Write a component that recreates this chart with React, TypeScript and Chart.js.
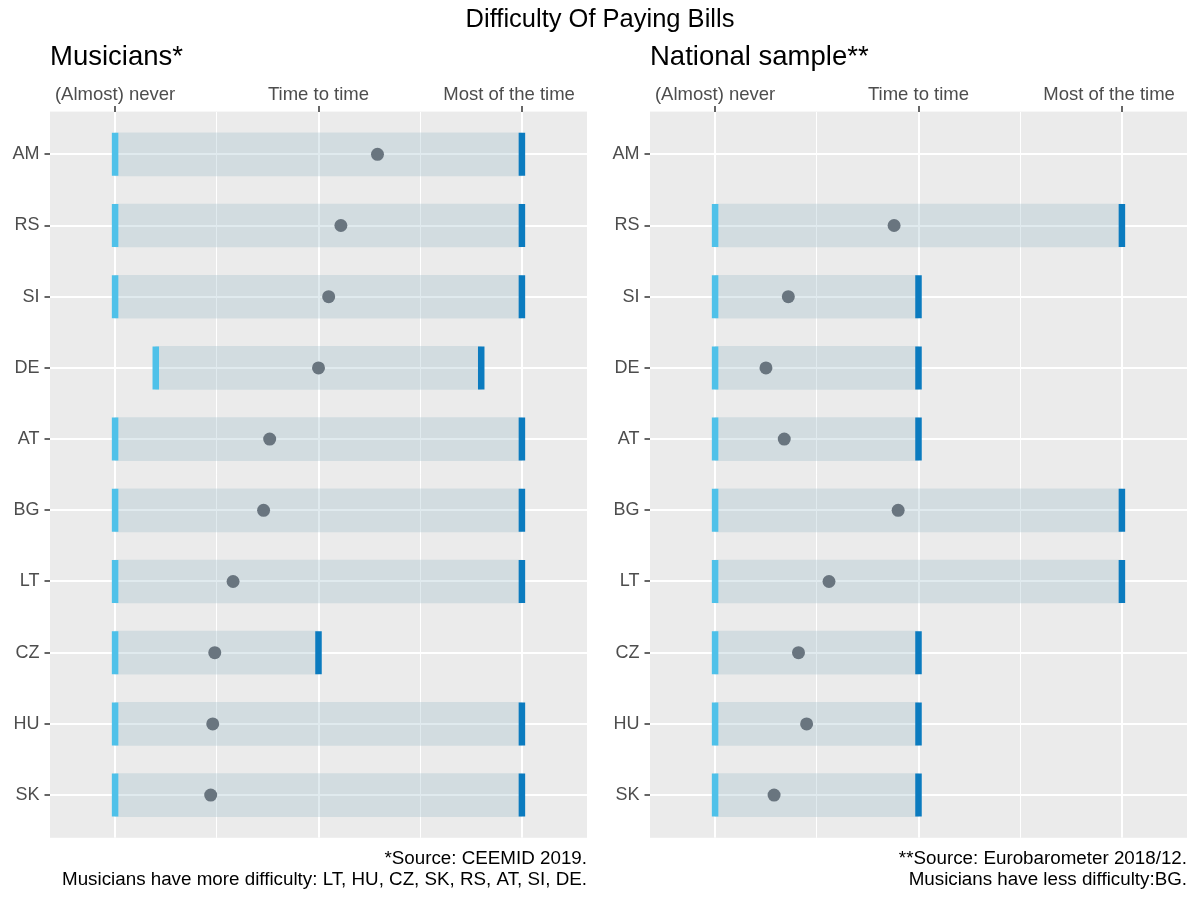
import { useEffect, useRef } from "react";
import { Chart, registerables } from "chart.js";

Chart.register(...registerables);

const FONT = '"Liberation Sans", Arial, Helvetica, sans-serif';
Chart.defaults.font.family = FONT;

const countries = ["AM", "RS", "SI", "DE", "AT", "BG", "LT", "CZ", "HU", "SK"];

const levelValues = [1, 2, 3];
const levelLabels = ["(Almost) never", "Time to time", "Most of the time"];
const gridBreaks = [1, 1.5, 2, 2.5, 3];

const musiciansMin = [1, 1, 1, 1.2, 1, 1, 1, 1, 1, 1];
const musiciansMax = [3, 3, 3, 2.8, 3, 3, 3, 2, 3, 3];
const musiciansMean = [2.29, 2.11, 2.05, 2.0, 1.76, 1.73, 1.58, 1.49, 1.48, 1.47];

const nationalMin = [null, 1, 1, 1, 1, 1, 1, 1, 1, 1];
const nationalMax = [null, 3, 2, 2, 2, 3, 3, 2, 2, 2];
const nationalMean = [null, 1.88, 1.36, 1.25, 1.34, 1.9, 1.56, 1.41, 1.45, 1.29];

const panelBackground = {
  id: "panelBackground",
  beforeDraw(chart: any) {
    const { ctx, chartArea: a } = chart;
    ctx.save();
    ctx.fillStyle = "#ebebeb";
    ctx.fillRect(a.left, a.top, a.right - a.left, a.bottom - a.top);
    ctx.restore();
  },
};

interface PanelProps {
  title: string;
  caption: string[];
  lows: (number | null)[];
  highs: (number | null)[];
  means: (number | null)[];
}

const Panel = ({ title, caption, lows, highs, means }: PanelProps) => {
  const canvasRef = useRef<HTMLCanvasElement | null>(null);

  useEffect(() => {
    if (!canvasRef.current) return;

    const rows = countries.map((_, i) => i).filter((i) => lows[i] !== null);
    const capStyle = {
      type: "scatter" as const,
      pointStyle: "line",
      pointRotation: 90,
      pointRadius: 21.5,
      pointBorderWidth: 6.5,
      order: 2,
    };

    const chart = new Chart(canvasRef.current, {
      type: "bar",
      data: {
        datasets: [
          {
            type: "bar",
            indexAxis: "y",
            data: rows.map((i) => ({ y: i, x: [lows[i], highs[i]] })) as any,
            backgroundColor: "rgba(152, 185, 198, 0.3)",
            borderWidth: 0,
            barThickness: 43,
            order: 3,
          },
          {
            ...capStyle,
            data: rows.map((i) => ({ x: lows[i] as number, y: i })),
            pointBorderColor: "#4fc1e9",
          },
          {
            ...capStyle,
            data: rows.map((i) => ({ x: highs[i] as number, y: i })),
            pointBorderColor: "#0b7bbf",
          },
          {
            type: "scatter",
            data: rows.map((i) => ({ x: means[i] as number, y: i })),
            pointStyle: "circle",
            pointRadius: 6.5,
            pointBorderWidth: 0,
            pointBackgroundColor: "#69757f",
            order: 1,
          },
        ] as any,
      },
      options: {
        animation: false,
        responsive: false,
        events: [],
        layout: { autoPadding: false, padding: { left: 0, right: 13, top: 0, bottom: 0 } },
        plugins: {
          legend: { display: false },
          tooltip: { enabled: false },
          title: {
            display: true,
            text: title,
            align: "start",
            fullSize: false,
            color: "#000",
            font: { size: 27.5, weight: "normal", lineHeight: 1.2 },
            padding: { top: 40.5, bottom: 0 },
          },
          subtitle: {
            display: true,
            position: "bottom",
            text: caption,
            align: "end",
            fullSize: false,
            color: "#000",
            font: { size: 18.8, weight: "normal", lineHeight: 1.1436 },
            padding: { top: 10, bottom: 9.2 },
          },
        },
        scales: {
          x: {
            type: "linear",
            position: "top",
            offset: false,
            min: 0.68,
            max: 3.32,
            afterBuildTicks: (scale: any) => {
              scale.ticks = gridBreaks.map((v) => ({ value: v }));
            },
            afterFit: (scale: any) => {
              scale.height = 38.1;
              scale.paddingLeft = 0;
              scale.paddingRight = 0;
            },
            border: { display: false },
            grid: {
              offset: false,
              color: "#ffffff",
              lineWidth: (ctx: any) => (levelValues.includes(ctx.tick?.value) ? 2 : 1),
              tickLength: 5.5,
              tickWidth: 1.5,
              tickColor: (ctx: any) => (levelValues.includes(ctx.tick?.value) ? "#333333" : "rgba(0,0,0,0)"),
            },
            ticks: {
              autoSkip: false,
              maxRotation: 0,
              minRotation: 0,
              padding: 0,
              color: "#4d4d4d",
              font: { size: 18.5 },
              callback: (value: any) => {
                const k = levelValues.indexOf(Number(value));
                if (k < 0) return "";
                // last label sits a little left of its tick, as in the original
                return k === levelLabels.length - 1 ? levelLabels[k] + "\u00a0".repeat(5) : levelLabels[k];
              },
            },
          },
          y: {
            type: "linear",
            reverse: true,
            offset: false,
            min: -0.6,
            max: countries.length - 0.4,
            afterBuildTicks: (scale: any) => {
              scale.ticks = countries.map((_, i) => ({ value: i }));
            },
            afterFit: (scale: any) => {
              scale.width = 50;
              scale.paddingTop = 0;
              scale.paddingBottom = 0;
            },
            border: { display: false },
            grid: {
              offset: false,
              color: "#ffffff",
              lineWidth: 2,
              tickLength: 5.5,
              tickWidth: 1.5,
              tickColor: "#333333",
            },
            ticks: {
              autoSkip: false,
              padding: 5,
              color: "#4d4d4d",
              font: { size: 18 },
              callback: (value: any) => countries[Number(value)] ?? "",
            },
          },
        },
      },
      plugins: [panelBackground],
    });

    return () => {
      chart.destroy();
    };
  }, [title, caption, lows, highs, means]);

  return <canvas ref={canvasRef} width={600} height={900} style={{ display: "block" }} />;
};

const App = () => {
  return (
    <div
      style={{
        position: "absolute",
        left: 0,
        top: 0,
        width: 1200,
        height: 900,
        background: "#ffffff",
        fontFamily: FONT,
      }}
    >
      <div style={{ display: "flex" }}>
        <Panel
          title="Musicians*"
          caption={[
            "*Source: CEEMID 2019.",
            "Musicians have more difficulty: LT, HU, CZ, SK, RS, AT, SI, DE.",
          ]}
          lows={musiciansMin}
          highs={musiciansMax}
          means={musiciansMean}
        />
        <Panel
          title="National sample**"
          caption={["**Source: Eurobarometer 2018/12.", "Musicians have less difficulty:BG."]}
          lows={nationalMin}
          highs={nationalMax}
          means={nationalMean}
        />
      </div>
      <div
        style={{
          position: "absolute",
          left: 0,
          top: 0,
          width: 1200,
          textAlign: "center",
          fontSize: 25.5,
          lineHeight: "36px",
          color: "#000",
        }}
      >
        Difficulty Of Paying Bills
      </div>
    </div>
  );
};

export default App;
